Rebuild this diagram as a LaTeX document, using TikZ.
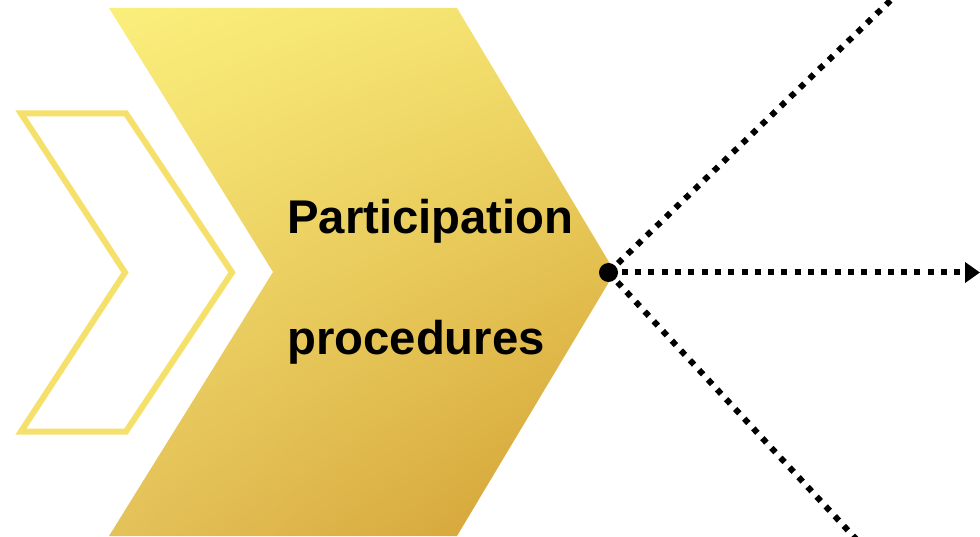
\documentclass[tikz,border=0pt]{standalone}
\usepackage{fontspec}
\setmainfont{Liberation Sans}
\usetikzlibrary{arrows.meta,shadings}
\definecolor{cTL}{HTML}{FBEF7C}
\definecolor{cTR}{HTML}{F2DE6C}
\definecolor{cBL}{HTML}{E4C25A}
\definecolor{cBR}{HTML}{D29E30}
\definecolor{cOut}{HTML}{F5E06C}
\tikzset{
  dotline/.style={line width=6pt, dash pattern=on 6pt off 7.3pt, line cap=butt, black},
  txtlabel/.style={anchor=base west, inner sep=0pt, font=\bfseries\fontsize{47.3}{47.3}\selectfont},
}
\begin{document}
\begin{tikzpicture}[x=1pt,y=-1pt]
\useasboundingbox (0,0) rectangle (980,537);
\clip (0,0) rectangle (980,537);
\shade[upper left=cTL, upper right=cTR, lower left=cBL, lower right=cBR]
  (109,8) -- (457,8) -- (615,272) -- (457,536) -- (109,536) -- (273,272) -- cycle;
\draw[line width=6pt, cOut, line join=miter]
  (21,113.5) -- (126,113.5) -- (232,272.5) -- (126,431.5) -- (21,431.5) -- (125,272.5) -- cycle;
\node[txtlabel] (t1) at (287,233.5) {Participation};
\node[txtlabel] (t2) at (287,354) {procedures};
\node[circle, fill=black, minimum size=19pt, inner sep=0pt] (hub) at (608.5,272.5) {};
\coordinate (up) at (893,-2);
\coordinate (right) at (980,272.5);
\coordinate (down) at (856,539);
\draw[dotline] (hub.center) -- (up);
\draw[dotline] (hub.center) -- (down);
\draw[dotline, -{Triangle[length=15pt,width=20pt]}] (hub.center) -- (right);
\end{tikzpicture}
\end{document}
